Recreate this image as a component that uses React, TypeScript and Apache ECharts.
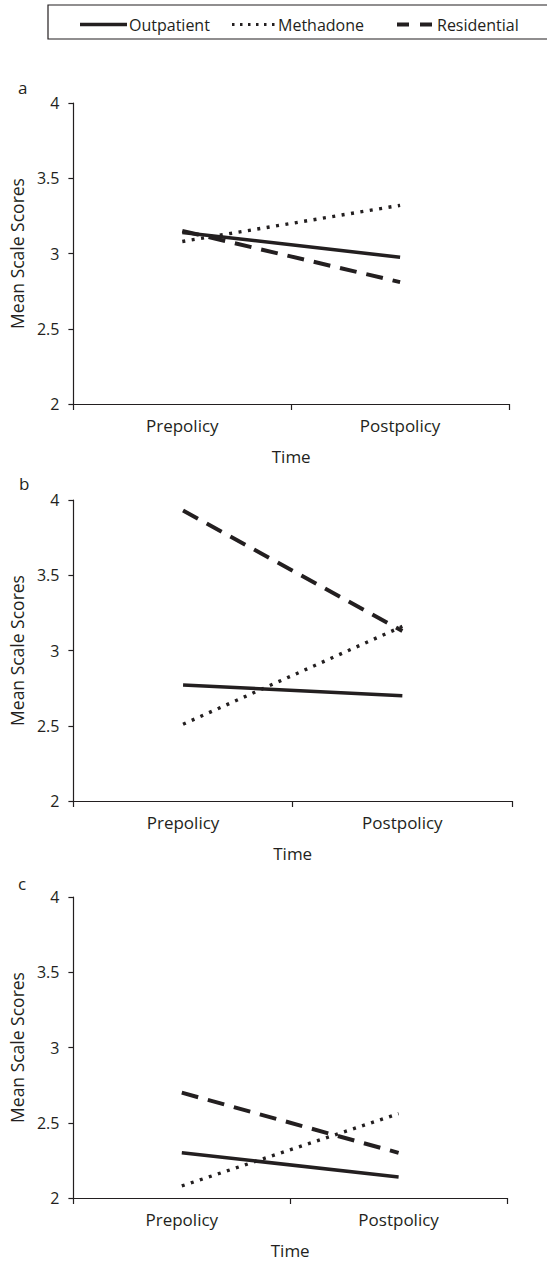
import React, { useEffect, useRef } from "react";
import * as echarts from "echarts";

const categories = ["Prepolicy", "Postpolicy"];
const yTicks = [2, 2.5, 3, 3.5, 4];
const seriesNames = ["Outpatient", "Methadone", "Residential"];

// panel a
const aOutpatient = [3.14, 2.975];
const aMethadone = [3.08, 3.32];
const aResidential = [3.15, 2.81];
// panel b
const bOutpatient = [2.77, 2.7];
const bMethadone = [2.51, 3.16];
const bResidential = [3.93, 3.13];
// panel c
const cOutpatient = [2.3, 2.14];
const cMethadone = [2.08, 2.56];
const cResidential = [2.7, 2.3];

const panelLabels = ["a", "b", "c"];

const FONT = "'Open Sans', 'Noto Sans', sans-serif";
const INK = "#231f20";

export default function App() {
  const ref = useRef<HTMLDivElement>(null);
  useEffect(() => {
    document.body.style.margin = "0";
    if (!ref.current) return;
    const chart = echarts.init(ref.current, undefined, { renderer: "svg" });

    const grids = [
      { left: 68, top: 103, width: 441, height: 301 },
      { left: 71, top: 500, width: 441, height: 301 },
      { left: 73, top: 897, width: 434, height: 301 },
    ];
    const panelData = [
      [aOutpatient, aMethadone, aResidential],
      [bOutpatient, bMethadone, bResidential],
      [cOutpatient, cMethadone, cResidential],
    ];
    const styles: any[] = [
      { type: "solid", width: 3.5, color: INK },
      { type: [3, 6.5], width: 3.4, color: INK },
      { type: [17, 10], width: 4, color: INK },
    ];

    const xAxis = grids.map((_, i) => ({
      type: "category",
      gridIndex: i,
      data: categories,
      boundaryGap: true,
      name: "Time",
      nameLocation: "middle",
      nameGap: 44,
      nameTextStyle: { fontFamily: FONT, fontSize: 17, color: INK },
      axisLine: { lineStyle: { color: INK, width: 1.2 } },
      axisTick: { show: true, length: 6, lineStyle: { color: INK, width: 1.2 } },
      axisLabel: { margin: 13, fontFamily: FONT, fontSize: 17, color: INK },
      splitLine: { show: false },
    }));
    const yAxis = grids.map((_, i) => ({
      type: "value",
      gridIndex: i,
      min: yTicks[0],
      max: yTicks[yTicks.length - 1],
      interval: 0.5,
      name: "Mean Scale Scores",
      nameLocation: "middle",
      nameGap: 35,
      nameTextStyle: { fontFamily: FONT, fontSize: 17.5, color: INK },
      axisLine: { show: true, lineStyle: { color: INK, width: 1.2 } },
      axisTick: { show: true, length: 5, lineStyle: { color: INK, width: 1.2 } },
      axisLabel: { margin: 14, fontFamily: FONT, fontSize: 16, color: INK },
      splitLine: { show: false },
    }));
    const series: any[] = [];
    panelData.forEach((arrs, i) => {
      arrs.forEach((d, j) => {
        series.push({
          type: "line",
          name: seriesNames[j],
          xAxisIndex: i,
          yAxisIndex: i,
          data: d,
          symbol: "none",
          lineStyle: { ...styles[j], cap: "butt" },
          z: 3 - j,
        });
      });
    });

    const panelLabelPos = [
      [18, 87],
      [19, 483],
      [18, 883],
    ];
    const graphic: any[] = [
      {
        type: "rect",
        shape: { x: 48, y: 5, width: 520, height: 34 },
        style: { fill: "none", stroke: INK, lineWidth: 1.2 },
      },
      {
        type: "line",
        shape: { x1: 80, y1: 24.5, x2: 127, y2: 24.5 },
        style: { stroke: INK, lineWidth: 3.5 },
      },
      {
        type: "line",
        shape: { x1: 232, y1: 24.5, x2: 275, y2: 24.5 },
        style: { stroke: INK, lineWidth: 3, lineDash: [2.5, 5.5] },
      },
      {
        type: "line",
        shape: { x1: 397, y1: 24.5, x2: 432, y2: 24.5 },
        style: { stroke: INK, lineWidth: 4, lineDash: [12, 11] },
      },
      ...[
        [seriesNames[0], 129],
        [seriesNames[1], 278],
        [seriesNames[2], 437],
      ].map(([t, x]) => ({
        type: "text",
        x: x as number,
        y: 25,
        style: {
          text: t as string,
          fontFamily: FONT,
          fontSize: 16,
          fill: INK,
          verticalAlign: "middle",
          align: "left",
        },
      })),
      ...panelLabels.map((t, i) => ({
        type: "text",
        x: panelLabelPos[i][0],
        y: panelLabelPos[i][1],
        style: {
          text: t,
          fontFamily: FONT,
          fontSize: 17,
          fill: INK,
          verticalAlign: "middle",
          align: "left",
        },
      })),
    ];

    chart.setOption({
      animation: false,
      backgroundColor: "#ffffff",
      grid: grids.map((g) => ({ ...g, containLabel: false })),
      xAxis,
      yAxis,
      series,
      graphic,
    });
    return () => chart.dispose();
  }, []);
  return <div ref={ref} style={{ width: 547, height: 1262 }} />;
}
